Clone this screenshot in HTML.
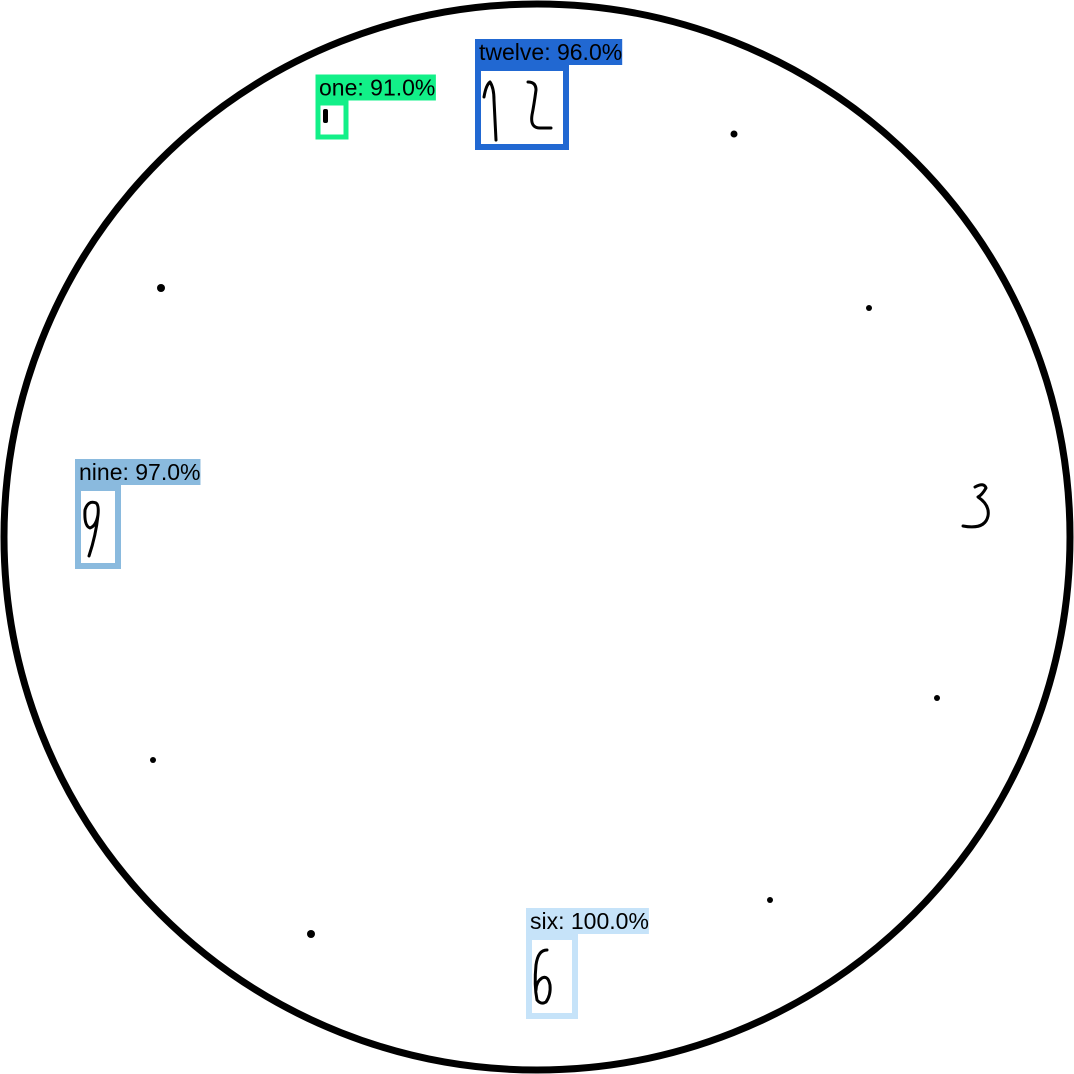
<!DOCTYPE html>
<html><head><meta charset="utf-8"><style>
html,body{margin:0;padding:0;background:#fff;}
svg{display:block;}
text{font-family:"Liberation Sans",Arial,sans-serif;}
</style></head><body>
<svg id="c" width="1074" height="1074" viewBox="0 0 1074 1074">
<rect width="1074" height="1074" fill="#fff"/>
<circle cx="537" cy="537" r="533" fill="none" stroke="#000" stroke-width="7"/>
<g fill="none" stroke="#000" stroke-width="3" stroke-linecap="round" stroke-linejoin="round">
<path d="M484 97 Q486 85 490 82 Q494 88 494 100 L496 140"/>
<path d="M528 82 Q536 82 536 90 Q534 105 532 115 Q530 128 540 128 L551 128"/>
<path d="M975 487 Q984 482 986 488 Q982 495 978 497 Q990 505 988 516 Q985 530 963 526"/>
<path d="M96 503 Q88 500 85 510 Q84 526 90 528 Q96 526 98 515 Q99 505 96 503 M98 515 Q96 535 89 556"/>
<path d="M547 950 Q538 950 536 965 Q534 985 537 1000 Q541 1005 546 1002 Q551 995 550 985 Q548 975 542 978 Q536 982 536 990"/>
</g>
<g fill="#000">
<rect x="323" y="109" width="5" height="14" rx="2"/>
<circle cx="734" cy="134" r="3.5"/>
<circle cx="161" cy="288" r="4"/>
<circle cx="869" cy="308" r="3"/>
<circle cx="937" cy="698" r="3"/>
<circle cx="153" cy="760" r="3"/>
<circle cx="770" cy="900" r="3"/>
<circle cx="311" cy="934" r="4"/>
</g>
<g id="dets"></g>
</svg>
<script>
const labels = ["twelve","one","nine","six"];
const scores = [96.0, 91.0, 97.0, 100.0];
const boxX = [478, 318, 78, 529];
const boxY = [68, 103, 488, 937];
const boxW = [88, 28, 40, 46];
const boxH = [79, 34, 78, 79];
const colors = ["#2168d2","#12f088","#8abade","#c6e3f9"];
const NS = "http://www.w3.org/2000/svg";
const g = document.getElementById("dets");
labels.forEach((lab, i) => {
  const grp = document.createElementNS(NS, "g");
  
  
  const sw = lab === "one" ? 5 : 6;
  const r = document.createElementNS(NS, "rect");
  r.setAttribute("x", boxX[i]); r.setAttribute("y", boxY[i]);
  r.setAttribute("width", boxW[i]); r.setAttribute("height", boxH[i]);
  r.setAttribute("fill", "none"); r.setAttribute("stroke", colors[i]); r.setAttribute("stroke-width", sw);
  
  
  grp.appendChild(r);
  const txt = lab + ": " + scores[i].toFixed(1) + "%";
  const t = document.createElementNS(NS, "text");
  t.setAttribute("x", boxX[i] + 1);
  t.setAttribute("y", boxY[i] - sw / 2 - 5);
  t.setAttribute("font-size", "23");
  t.setAttribute("fill", "#000");
  t.textContent = txt;
  
  
  grp.appendChild(t);
  g.appendChild(grp);
  const bb = t.getBBox();
  const bg = document.createElementNS(NS, "rect");
  bg.setAttribute("x", boxX[i] - sw / 2);
  bg.setAttribute("y", boxY[i] - sw / 2 - 26);
  bg.setAttribute("width", bb.width + 4);
  bg.setAttribute("height", 26);
  bg.setAttribute("fill", colors[i]);
  
  
  grp.insertBefore(bg, t);
});
</script>
</body></html>
